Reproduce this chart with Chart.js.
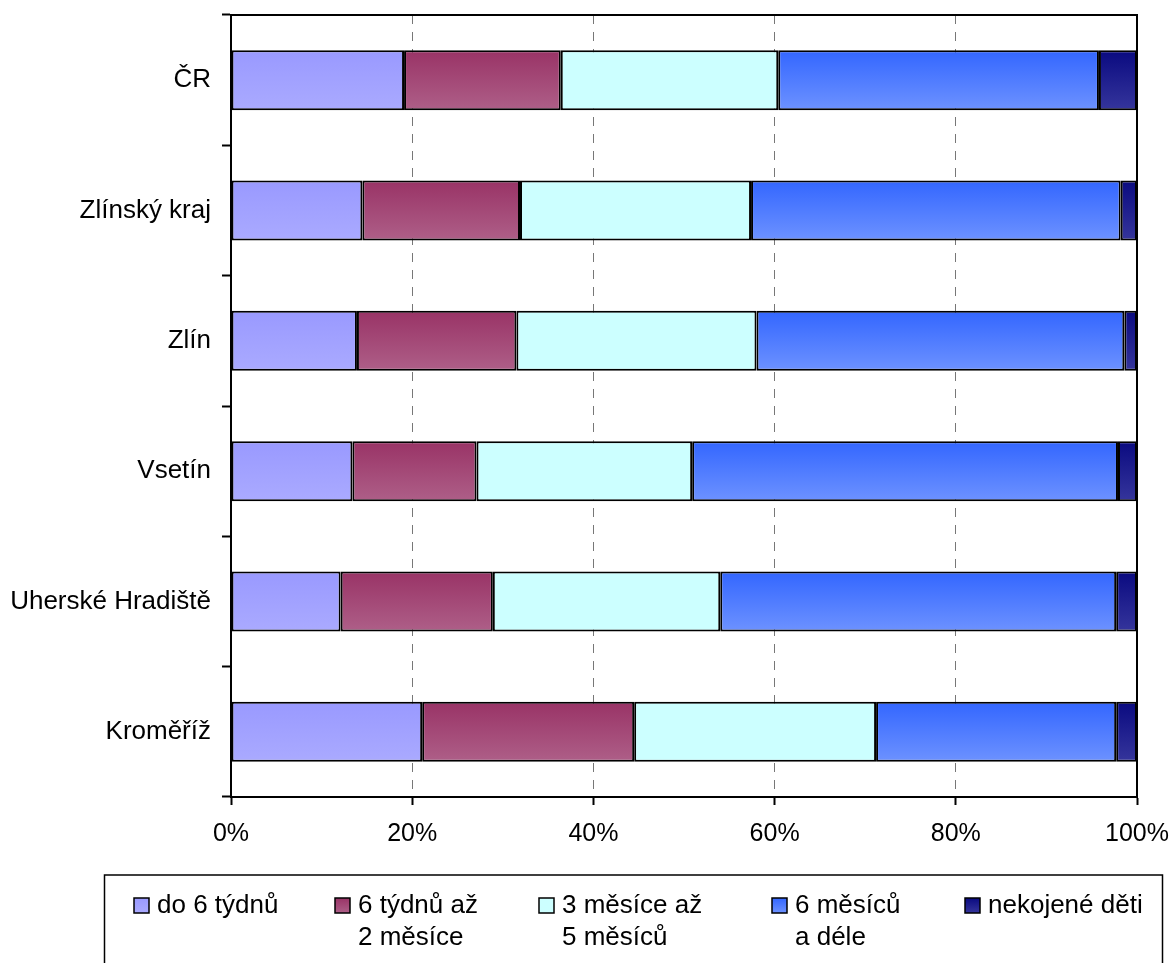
<!DOCTYPE html>
<html>
<head>
<meta charset="utf-8">
<script src="https://cdn.jsdelivr.net/npm/chart.js@4/dist/chart.umd.min.js"></script>
<style>
    html, body { margin: 0; padding: 0; background: #fff; }
    #wrap { width: 1173px; height: 963px; }
</style>
</head>
<body>
<div id="wrap"><canvas id="kojeniChart" width="1173" height="963"></canvas></div>
<script>
// data (percent of children)
const categories = ['ČR', 'Zlínský kraj', 'Zlín', 'Vsetín', 'Uherské Hradiště', 'Kroměříž'];
const seriesNames = ['do 6 týdnů', '6 týdnů až\n2 měsíce', '3 měsíce až\n5 měsíců', '6 měsíců\na déle', 'nekojené děti'];
const do6Tydnu = [19.1, 14.5, 13.9, 13.4, 12.1, 21.1];
const tydnu6Az2Mesice = [17.3, 17.4, 17.6, 13.7, 16.8, 23.4];
const mesice3Az5 = [24.0, 25.5, 26.5, 23.8, 25.1, 26.7];
const mesicu6ADele = [35.4, 40.8, 40.6, 47.0, 43.7, 26.5];
const nekojene = [4.2, 1.8, 1.4, 2.1, 2.3, 2.3];
const xTicks = [0, 20, 40, 60, 80, 100];

const BAR_PCT = 0.46;
const FONT = '"Liberation Sans", Arial, sans-serif';

// top / bottom colour of each series gradient
const shades = [
    ['#9999ff', '#aaaaff'],
    ['#993366', '#ae5f88'],
    ['#ccffff', '#ccffff'],
    ['#3366ff', '#6d92ff'],
    ['#0a0a80', '#35359c']
];

function barGradient(i) {
    return function (context) {
        const chart = context.chart;
        const y = chart.scales.y;
        if (!y || context.dataIndex === undefined) return shades[i][0];
        const center = y.getPixelForValue(context.dataIndex);
        const half = (y.height / categories.length) * BAR_PCT / 2;
        if (!isFinite(center)) return shades[i][0];
        const g = chart.ctx.createLinearGradient(0, center - half, 0, center + half);
        g.addColorStop(0, shades[i][0]);
        g.addColorStop(1, shades[i][1]);
        return g;
    };
}

const seriesData = [do6Tydnu, tydnu6Az2Mesice, mesice3Az5, mesicu6ADele, nekojene];

// frame on top and right of the plot area
const framePlugin = {
    id: 'frame',
    afterDatasetsDraw(chart) {
        const { ctx, chartArea: a } = chart;
        ctx.save();
        ctx.strokeStyle = '#000';
        ctx.lineWidth = 2;
        ctx.beginPath();
        ctx.moveTo(a.left, a.top);
        ctx.lineTo(a.right, a.top);
        ctx.lineTo(a.right, a.bottom);
        ctx.stroke();
        ctx.restore();
    }
};

// legend box below the chart, columns as in the original
const legendPlugin = {
    id: 'boxLegend',
    afterDraw(chart) {
        const ctx = chart.ctx;
        const colX = [134, 335, 539, 772, 965];
        const top = 875;
        ctx.save();
        ctx.strokeStyle = '#000';
        ctx.lineWidth = 1.5;
        ctx.strokeRect(104.5, top, 1058, 120);
        ctx.font = '26px ' + FONT;
        ctx.textBaseline = 'alphabetic';
        ctx.fillStyle = '#000';
        chart.data.datasets.forEach((ds, i) => {
            const x = colX[i];
            const g = ctx.createLinearGradient(0, 898, 0, 913);
            g.addColorStop(0, shades[i][0]);
            g.addColorStop(1, shades[i][1]);
            ctx.fillStyle = g;
            ctx.fillRect(x, 898, 15, 15);
            ctx.strokeStyle = '#000';
            ctx.lineWidth = 1.5;
            ctx.strokeRect(x, 898, 15, 15);
            ctx.fillStyle = '#000';
            ds.label.split('\n').forEach((line, j) => {
                ctx.fillText(line, x + 23, 913 + j * 32);
            });
        });
        ctx.restore();
    }
};

const ctx = document.getElementById('kojeniChart').getContext('2d');

new Chart(ctx, {
    type: 'bar',
    data: {
        labels: categories,
        datasets: seriesData.map((values, i) => ({
            label: seriesNames[i],
            data: values,
            backgroundColor: barGradient(i),
            borderColor: '#000',
            borderWidth: 2,
            borderSkipped: false,
            categoryPercentage: 1,
            barPercentage: BAR_PCT
        }))
    },
    options: {
        indexAxis: 'y',
        responsive: false,
        animation: false,
        devicePixelRatio: 1,
        layout: { padding: { left: 0, right: 36, top: 15, bottom: 0 } },
        plugins: {
            legend: { display: false },
            tooltip: { enabled: false }
        },
        scales: {
            x: {
                stacked: true,
                min: 0,
                max: 100,
                afterFit: scale => {
                    scale.height = 166;
                    scale.paddingLeft = 0;
                    scale.paddingRight = 0;
                },
                afterBuildTicks: scale => { scale.ticks = xTicks.map(v => ({ value: v })); },
                ticks: {
                    color: '#000',
                    font: { family: FONT, size: 25 },
                    padding: 14,
                    maxRotation: 0,
                    callback: v => v + '%'
                },
                grid: {
                    color: c => (c.tick && c.tick.value > 0 && c.tick.value < 100) ? '#777777' : 'rgba(0,0,0,0)',
                    lineWidth: 1,
                    tickColor: '#000',
                    tickLength: 8,
                    tickWidth: 2,
                    tickBorderDash: []
                },
                border: { display: true, color: '#000', width: 2, dash: [9, 8] }
            },
            y: {
                stacked: true,
                afterFit: scale => {
                    scale.width = 231;
                    scale.paddingTop = 0;
                    scale.paddingBottom = 0;
                },
                ticks: {
                    color: '#000',
                    font: { family: FONT, size: 26 },
                    padding: 11
                },
                grid: {
                    offset: true,
                    drawOnChartArea: false,
                    tickColor: '#000',
                    tickLength: 9,
                    tickWidth: 2
                },
                border: { display: true, color: '#000', width: 2 }
            }
        }
    },
    plugins: [framePlugin, legendPlugin]
});
</script>
</body>
</html>
